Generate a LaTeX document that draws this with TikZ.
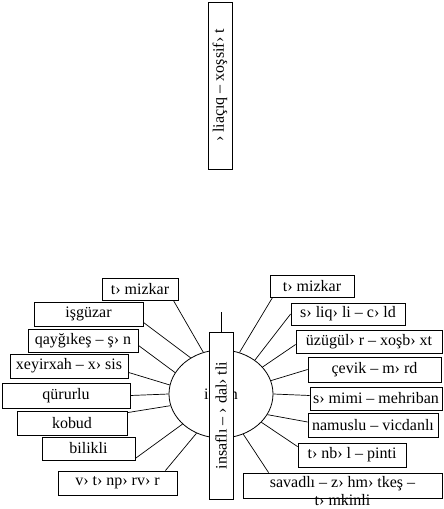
\documentclass[tikz,border=0pt]{standalone}
\usepackage{fontspec}
\setmainfont{Liberation Serif}
\usetikzlibrary{shapes.geometric}
\begin{document}
\begin{tikzpicture}[x=1pt,y=-1pt,line width=0.8pt,
  txt/.style={font=\fontsize{16}{18}\selectfont},
  box/.style={draw,fill=white,inner sep=0pt,txt},
  vbox/.style={box,rotate=90,minimum width=167pt,minimum height=24pt},
  conn/.style={draw,line width=0.7pt}]
\useasboundingbox (0,0) rectangle (444,509);
% top vertical box
\node[vbox] (top) at (220,85.5) {› liaçıq – xoşsif› t};
% central ellipse
\node[draw,ellipse,minimum width=104pt,minimum height=88pt,inner sep=0pt,txt] (ell) at (221,394) {insan};
% left boxes
\node[box,minimum width=76pt,minimum height=22pt] (lm) at (140,289) {t› mizkar};
\node[box,minimum width=109pt,minimum height=24pt] (ig) at (88.5,314) {işgüzar};
\node[box,minimum width=110pt,minimum height=23pt] (qk) at (83,340.5) {qayğıkeş – ş› n};
\node[box,minimum width=118pt,minimum height=24pt] (xe) at (69,366) {xeyirxah – x› sis};
\node[box,minimum width=128pt,minimum height=25pt] (qu) at (66,395.5) {qürurlu};
\node[box,minimum width=110pt,minimum height=24pt] (ko) at (72,423) {kobud};
\node[box,minimum width=93pt,minimum height=23pt] (bi) at (88.5,448.5) {bilikli};
\node[box,minimum width=119pt,minimum height=24pt] (vt) at (117.5,483) {v› t› np› rv› r};
% right boxes
\node[box,minimum width=84pt,minimum height=22pt] (rm) at (312,286) {t› mizkar};
\node[box,minimum width=114pt,minimum height=22pt] (sl) at (348,314) {s› liq› li – c› ld};
\node[box,minimum width=146pt,minimum height=23pt] (uz) at (369,341.5) {üzügül› r – xoşb› xt};
\node[box,minimum width=133pt,minimum height=25pt] (ce) at (374.5,369.5) {çevik – m› rd};
\node[box,minimum width=132pt,minimum height=23pt] (sm) at (376,398.5) {s› mimi – mehriban};
\node[box,minimum width=130pt,minimum height=24pt] (na) at (373,425) {namuslu – vicdanlı};
\node[box,minimum width=108pt,minimum height=24pt] (tb) at (352,455) {t› nb› l – pinti};
\node[box,minimum width=199pt,minimum height=25pt] (sv) at (342.5,485.5) {};
\node[txt,align=center,anchor=north,inner sep=0pt] (svt) at (342.5,476) {savadlı – z› hm› tkeş –\\t› mkinli};
% connectors left
\draw[conn] ([xshift=-5pt]lm.south east) -- (ell.113);
\draw[conn] ([yshift=4pt]ig.south east) -- (ell.130);
\draw[conn] ([yshift=7pt]qk.south east) -- (ell.155);
\draw[conn] ([yshift=6pt]xe.south east) -- (ell.170);
\draw[conn] (qu.east) -- (ell.180);
\draw[conn] ([yshift=-2pt]ko.north east) -- (ell.193);
\draw[conn] ([yshift=2pt]bi.south east) -- (ell.218);
\draw[conn] ([xshift=-12pt]vt.north east) -- (ell.238);
% connectors right
\draw[conn] ([xshift=3pt]rm.south west) -- (ell.66);
\draw[conn] (sl.west) -- (ell.45);
\draw[conn] ([yshift=-3pt]uz.west) -- (ell.33);
\draw[conn] (ce.west) -- (ell.15);
\draw[conn] ([yshift=3pt]sm.west) -- (ell.0);
\draw[conn] ([yshift=3pt]na.west) -- (ell.-24);
\draw[conn] ([yshift=-4pt]tb.north west) -- (ell.-35);
\draw[conn] ([xshift=26pt]sv.north west) -- (ell.-61);
% front vertical box
\node[vbox] (fb) at (221,415.5) {insaflı – › dal› tli};
\coordinate (stem) at (221,312);
\draw[conn] (stem) -- (fb.east);
\end{tikzpicture}
\end{document}
